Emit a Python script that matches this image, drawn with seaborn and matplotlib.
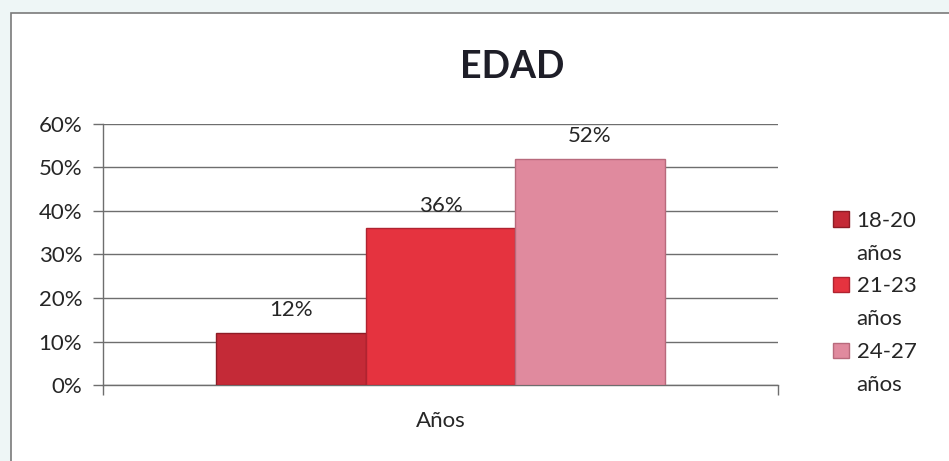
import numpy as np
import pandas as pd
import matplotlib
matplotlib.use("Agg")
import matplotlib.pyplot as plt
import matplotlib.patches as mpatches
from matplotlib.ticker import PercentFormatter
import seaborn as sns

sns.set_style("white")
plt.rcParams['font.family'] = ['Lato', 'DejaVu Sans']

# data
grupos = ["18-20", "21-23", "24-27"]
valores = [0.12, 0.36, 0.52]
eje = ["Años", "Años", "Años"]
colores = ["#c42a37", "#e5333f", "#e08a9e"]
bordes = ["#8e1c26", "#b02330", "#b86a7c"]

df = pd.DataFrame({"eje": eje, "edad": grupos, "valor": valores})
txt = "#262626"

fig = plt.figure(figsize=(9.49, 4.61), dpi=100, facecolor="#eef6f6")
# chart frame (runs off the right / bottom edge like the scan)
fig.patches.append(mpatches.Rectangle((11 / 949, -0.1), 1.2, 1 - 13 / 461 + 0.1,
                                      transform=fig.transFigure, facecolor="white",
                                      edgecolor="#7a7a7a", lw=1.2, zorder=-10))

ax = fig.add_axes([103 / 949, 76 / 461, 675 / 949, 261 / 461])
ax.set_facecolor("none")

sns.barplot(data=df, x="eje", y="valor", hue="edad", palette=colores,
            width=0.664, gap=0, saturation=1, ax=ax, legend=False, zorder=3)

for patch, ec in zip(ax.patches, bordes):
    patch.set_edgecolor(ec)
    patch.set_linewidth(1.0)

for c in ax.containers:
    ax.bar_label(c, labels=[f"{v:.0%}" for v in c.datavalues], padding=9,
                 fontsize=16, color=txt)

ax.set_ylim(0, 0.6)
ax.set_xlim(-0.5, 0.5)
ax.set_yticks(np.arange(0, 0.61, 0.1))
ax.yaxis.set_major_formatter(PercentFormatter(1.0, decimals=0))
ax.grid(axis="y", color="#6e6e6e", lw=1.0, zorder=1)
ax.tick_params(axis="y", length=7, width=1, color="#6e6e6e", labelsize=16,
               labelcolor=txt, pad=8, left=True)
ax.set_xticks([0])
ax.set_xticklabels([""])
ax.tick_params(axis="x", which="major", length=0)
ax.set_xticks([-0.5, 0.5], minor=True)
ax.tick_params(axis="x", which="minor", length=7, width=1, color="#6e6e6e", bottom=True)
ax.set_xlabel("Años", fontsize=16, color=txt, labelpad=8)
ax.set_ylabel("")

for s in ["top", "right"]:
    ax.spines[s].set_visible(False)
for s in ["left", "bottom"]:
    ax.spines[s].set_color("#6e6e6e")
    ax.spines[s].set_linewidth(1.0)

# legend: each group label on one row, "años" on the row below (no marker)
handles, labels = [], []
for g, c, e in zip(grupos, colores, bordes):
    handles.append(mpatches.Patch(facecolor=c, edgecolor=e))
    labels.append(g)
    handles.append(mpatches.Patch(facecolor="none", edgecolor="none"))
    labels.append("años")
leg = ax.legend(handles, labels, loc="center left", bbox_to_anchor=(0.857, 0.343),
                bbox_transform=fig.transFigure, frameon=False, fontsize=16,
                handlelength=0.7, handleheight=0.7, handletextpad=0.35,
                labelspacing=0.58, labelcolor=txt)

fig.text(512 / 949, 1 - 67 / 461, "EDAD", ha="center", va="center",
         fontsize=27, fontweight="bold", color="#1e1e28")

fig.savefig("out.png", dpi=100, facecolor=fig.get_facecolor())
